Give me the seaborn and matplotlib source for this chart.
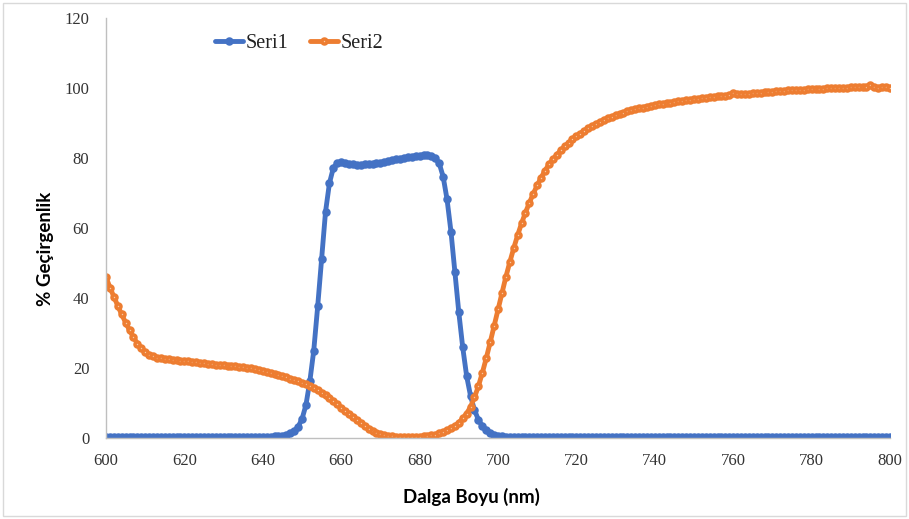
import matplotlib
matplotlib.use("Agg")
import matplotlib.pyplot as plt
from matplotlib.patches import Rectangle
import seaborn as sns
import pandas as pd

# Wavelength grid (nm), one reading per nanometre
wavelength = list(range(600, 801))

# Seri1 transmittance (%), 600 ... 800 nm
seri1 = [
    0.3, 0.3, 0.3, 0.3, 0.3, 0.3, 0.3, 0.3, 0.3, 0.3,   # 600-609
    0.3, 0.3, 0.3, 0.3, 0.3, 0.3, 0.3, 0.3, 0.3, 0.3,   # 610-619
    0.3, 0.3, 0.3, 0.3, 0.3, 0.3, 0.3, 0.3, 0.3, 0.3,   # 620-629
    0.3, 0.3, 0.3, 0.3, 0.3, 0.3, 0.3, 0.3, 0.3, 0.3,   # 630-639
    0.3, 0.4, 0.4, 0.5, 0.6, 0.7, 0.9, 1.3, 2.0, 3.2,   # 640-649
    5.4, 9.4, 16.2, 25.0, 37.6, 51.2, 64.6, 72.8, 77.2, 78.5,  # 650-659
    78.8, 78.6, 78.4, 78.2, 78.1, 78.1, 78.2, 78.3, 78.4, 78.5,  # 660-669
    78.7, 78.9, 79.1, 79.3, 79.6, 79.8, 80.0, 80.2, 80.4, 80.6,  # 670-679
    80.7, 80.8, 80.8, 80.5, 79.9, 78.5, 74.7, 68.2, 59.0, 47.3,  # 680-689
    35.9, 25.9, 17.7, 12.0, 8.0, 5.2, 3.4, 2.2, 1.5, 1.0,       # 690-699
    0.7, 0.5, 0.4, 0.3, 0.3, 0.2, 0.2, 0.2, 0.2, 0.2,   # 700-709
    0.2, 0.2, 0.2, 0.2, 0.2, 0.2, 0.2, 0.2, 0.2, 0.2,   # 710-719
    0.4, 0.4, 0.4, 0.4, 0.4, 0.4, 0.4, 0.4, 0.4, 0.4,   # 720-729
    0.4, 0.4, 0.4, 0.4, 0.4, 0.4, 0.4, 0.4, 0.4, 0.4,   # 730-739
    0.4, 0.4, 0.4, 0.4, 0.4, 0.4, 0.4, 0.4, 0.4, 0.4,   # 740-749
    0.4, 0.4, 0.4, 0.4, 0.4, 0.4, 0.4, 0.4, 0.4, 0.4,   # 750-759
    0.4, 0.4, 0.4, 0.4, 0.4, 0.4, 0.4, 0.4, 0.4, 0.4,   # 760-769
    0.4, 0.4, 0.4, 0.4, 0.4, 0.4, 0.4, 0.4, 0.4, 0.4,   # 770-779
    0.4, 0.4, 0.4, 0.4, 0.4, 0.4, 0.4, 0.4, 0.4, 0.4,   # 780-789
    0.4, 0.4, 0.4, 0.4, 0.4, 0.4, 0.4, 0.4, 0.4, 0.4,   # 790-799
    0.4,                                                # 800
]

# Seri2 transmittance (%), 600 ... 800 nm
seri2 = [
    46.0, 43.0, 40.4, 37.8, 35.3, 33.0, 30.8, 28.8, 27.0, 25.6,  # 600-609
    24.5, 23.8, 23.3, 23.0, 22.8, 22.6, 22.5, 22.3, 22.2, 22.1,  # 610-619
    22.0, 21.9, 21.7, 21.6, 21.5, 21.4, 21.2, 21.1, 21.0, 20.9,  # 620-629
    20.8, 20.7, 20.6, 20.5, 20.4, 20.3, 20.1, 19.9, 19.7, 19.5,  # 630-639
    19.2, 18.9, 18.6, 18.3, 18.0, 17.7, 17.4, 17.0, 16.6, 16.2,  # 640-649
    15.8, 15.3, 14.8, 14.2, 13.6, 12.9, 12.2, 11.4, 10.5, 9.6,   # 650-659
    8.7, 7.8, 6.9, 6.0, 5.1, 4.2, 3.4, 2.7, 2.0, 1.5,            # 660-669
    1.1, 0.8, 0.6, 0.5, 0.4, 0.3, 0.3, 0.3, 0.3, 0.3,            # 670-679
    0.4, 0.5, 0.6, 0.8, 1.0, 1.3, 1.7, 2.2, 2.8, 3.5,            # 680-689
    4.4, 5.6, 7.0, 8.9, 11.6, 14.8, 18.6, 22.8, 27.3, 32.0,      # 690-699
    36.8, 41.5, 46.0, 50.2, 54.2, 57.9, 61.3, 64.4, 67.2, 69.8,  # 700-709
    72.2, 74.4, 76.4, 78.2, 79.6, 80.9, 82.2, 83.3, 84.3, 85.3,  # 710-719
    86.2, 87.0, 87.8, 88.5, 89.2, 89.8, 90.3, 90.9, 91.4, 91.8,  # 720-729
    92.2, 92.6, 93.0, 93.3, 93.6, 93.9, 94.2, 94.4, 94.7, 94.9,  # 730-739
    95.1, 95.3, 95.5, 95.7, 95.8, 96.0, 96.2, 96.3, 96.5, 96.6,  # 740-749
    96.8, 97.0, 97.1, 97.2, 97.3, 97.5, 97.6, 97.7, 97.8, 98.0,  # 750-759
    98.6, 98.4, 98.2, 98.3, 98.4, 98.5, 98.6, 98.7, 98.8, 98.9,  # 760-769
    99.0, 99.1, 99.1, 99.2, 99.3, 99.3, 99.4, 99.5, 99.5, 99.6,  # 770-779
    99.7, 99.7, 99.8, 99.8, 99.9, 99.9, 100.0, 100.0, 100.1, 100.1,  # 780-789
    100.2, 100.2, 100.3, 100.3, 100.4, 100.8, 100.3, 100.1, 100.2, 100.3,  # 790-799
    99.9,                                                        # 800
]

series_names = ["Seri1", "Seri2"]
series_colors = ["#4472C4", "#ED7D31"]
x_ticks = [600, 620, 640, 660, 680, 700, 720, 740, 760, 780, 800]
y_ticks = [0, 20, 40, 60, 80, 100, 120]
x_title = "Dalga Boyu (nm)"
y_title = "% Geçirgenlik"

df = pd.DataFrame({"Dalga": wavelength, "Seri1": seri1, "Seri2": seri2})

sns.set_style("white")
plt.rcParams["font.family"] = ["Liberation Serif", "DejaVu Serif"]

W, H = 909, 519
fig = plt.figure(figsize=(W / 100, H / 100), dpi=100)
ax = fig.add_axes([106 / W, 1 - 438 / H, (890 - 106) / W, (438 - 18) / H])

face = {"Seri1": series_colors[0], "Seri2": "#F8C8A2"}
for name, col in zip(series_names, series_colors):
    sns.lineplot(data=df, x="Dalga", y=name, ax=ax, color=col, label=name,
                 linewidth=3.5, marker="o", markersize=3.6,
                 markeredgewidth=2.5, markeredgecolor=col,
                 markerfacecolor=face[name])

ax.set_xlim(600, 800)
ax.set_ylim(0, 120)
ax.set_xticks(x_ticks)
ax.set_yticks(y_ticks)
ax.tick_params(axis="both", length=0, labelsize=12, labelcolor="#333333")
ax.tick_params(axis="x", pad=11)
ax.tick_params(axis="y", pad=12)
ax.set_xlabel("")
ax.set_ylabel("")

for side in ["top", "right"]:
    ax.spines[side].set_visible(False)
for side in ["left", "bottom"]:
    ax.spines[side].set_color("#BFBFBF")
    ax.spines[side].set_linewidth(1.0)

label_font = {"family": ["Lato", "DejaVu Sans"], "weight": "bold", "size": 13.5, "color": "black"}
fig.text(471 / W, 1 - 497 / H, x_title, ha="center", va="center", fontdict=label_font)
fig.text(45 / W, 1 - 249 / H, y_title, ha="center", va="center", rotation=90, fontdict=label_font)

leg = ax.legend(loc="upper left", bbox_to_anchor=((215 - 106) / (890 - 106), 1 - (34 - 18) / (438 - 18)),
                ncol=2, frameon=False, fontsize=14.5, handlelength=1.4, handletextpad=0.1,
                columnspacing=1.1, borderaxespad=0, borderpad=0)
for t in leg.get_texts():
    t.set_color("#222222")

# light outer border of the chart area
fig.patches.append(Rectangle((3 / W, 3 / H), 1 - 6 / W, 1 - 6 / H, transform=fig.transFigure,
                             fill=False, edgecolor="#D9D9D9", linewidth=1.0))

fig.savefig("out.png", dpi=100)
